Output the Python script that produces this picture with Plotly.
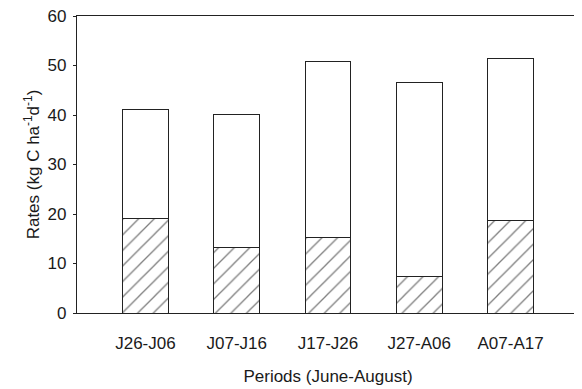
import plotly.graph_objects as go

periods = ["J26-J06", "J07-J16", "J17-J26", "J27-A06", "A07-A17"]
total_rates = [41.1, 40.1, 50.8, 46.5, 51.5]
hatched_rates = [19.0, 13.2, 15.3, 7.4, 18.7]
open_rates = [t - h for t, h in zip(total_rates, hatched_rates)]

line_col = "#222222"
font = dict(family="Liberation Sans, Arial, sans-serif", size=17, color="#1a1a1a")

fig = go.Figure()
fig.add_trace(go.Bar(
    x=periods, y=hatched_rates, width=0.5,
    marker=dict(color="white", line=dict(color=line_col, width=1),
                pattern=dict(shape="/", size=11, solidity=0.12,
                             fgcolor="#000000", bgcolor="white", fillmode="overlay")),
    showlegend=False,
))
fig.add_trace(go.Bar(
    x=periods, y=open_rates, width=0.5,
    marker=dict(color="white", line=dict(color=line_col, width=1)),
    showlegend=False,
))

fig.update_layout(
    barmode="stack",
    width=574, height=381,
    margin=dict(l=69, r=3, t=8, b=76, pad=0),
    paper_bgcolor="white", plot_bgcolor="white",
    font=font,
    xaxis=dict(
        range=[-0.75, 4.75], showline=True, mirror=True, linecolor=line_col, linewidth=1.2,
        ticks="", showgrid=False, tickfont=font, automargin=False, ticklabelstandoff=14,
        title=dict(text="Periods (June-August)", font=font, standoff=18),
    ),
    yaxis=dict(
        range=[0, 60], dtick=10, showline=True, mirror=True, linecolor=line_col, linewidth=1.2,
        ticks="outside", ticklen=3, tickcolor=line_col, showgrid=False, zeroline=False,
        tickfont=font, automargin=False, ticklabelstandoff=3, ticklabeloverflow="allow",
        title=dict(text="Rates (kg C ha<sup>-1</sup>d<sup>-1</sup>)", font=font, standoff=3),
    ),
)

fig.write_html("out.html")
